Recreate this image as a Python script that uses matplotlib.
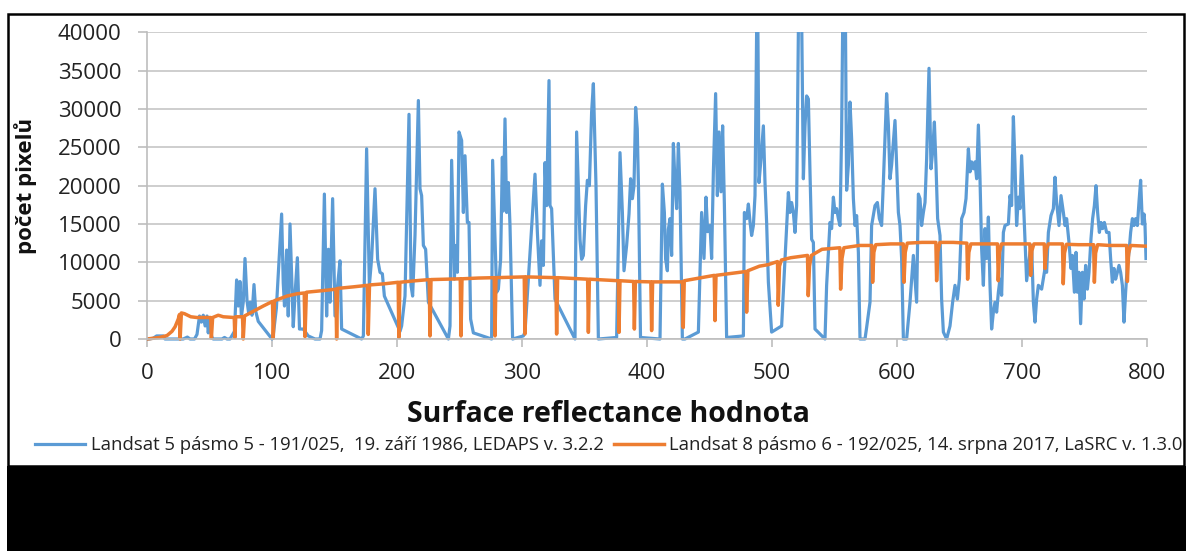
import matplotlib
matplotlib.use('Agg')
import matplotlib.pyplot as plt
from matplotlib.patches import Rectangle
from matplotlib.transforms import Bbox, TransformedBbox

plt.rcParams['font.family'] = ['Open Sans', 'DejaVu Sans']

# Landsat 5 (blue) - vertices
blue_x = [0, 2, 5, 7.7, 13, 14.4, 29, 32.3, 34.4, 38, 40, 42, 43.5, 45, 46.5, 48, 49, 50.4, 51.7, 53,
          60, 62, 64, 66.4, 70, 71.7, 73, 74.4, 75.5, 77, 78.4, 80, 81.3, 82.5, 84, 85.6, 87, 89, 100,
          101, 103.5, 107.7, 109, 110, 111.7, 113, 114.4, 115.5, 117, 118.5, 120.3, 122, 125, 129, 134.4,
          138.4, 139.7, 141.9, 143.7, 145.1, 146.4, 148.5, 150.4, 152.5, 154.4, 155.7, 171.7, 173.1, 175.7,
          177.9, 179.7, 182.4, 184.5, 186.4, 188.3, 189.9, 202.4, 203.7, 206.4, 209.6, 211.2, 212.5, 214.4,
          217.1, 218.4, 219.7, 221.1, 222.9, 225.1, 241.1, 242.4, 243.7, 245.9, 246.9, 248.3, 249.6, 251.7,
          253.1, 254.4, 256.3, 257.6, 258.9, 261.1, 275.7, 276.5, 278.4, 279.7, 281.1, 282.9, 284.3, 285.1,
          286.4, 287.7, 289.1, 290.4, 292.5, 301.1, 302.4, 310.4, 312.3, 314.4, 315.7, 317.1, 318.4, 319.7,
          321.6, 322.4, 323.7, 326.4, 342.4, 343.7, 346.4, 347.7, 349.1, 350.9, 352.3, 353.9, 355.7, 357.1,
          359.2, 361.1, 375.7, 378.4, 380.3, 381.6, 383.7, 385.6, 386.9, 388.3, 389.6, 390.9, 392.2, 393.2,
          394.8, 410.4, 412.3, 413.9, 414.9, 416.3, 417.1, 418.4, 419.7, 421.1, 422.4, 423.7, 425.1, 426.4,
          428.3, 430.4, 441.1, 443.7, 445.6, 447.2, 448.5, 450.4, 451.7, 453.1, 454.9, 456.3, 457.6, 459.2,
          460.5, 461.9, 463.7, 477.1, 477.9, 479.7, 481.1, 482.4, 483.7, 485.1, 486.4, 488.3, 489.6, 491.2,
          493.1, 494.4, 495.7, 497.1, 499.7, 507.7, 513.1, 514.4, 515.7, 517.1, 518.4, 519.7, 521.7, 523.2,
          525.1, 526.4, 527.7, 529.1, 530.4, 531.7, 533.1, 534.4, 542.4, 543.7, 546.4, 547.7, 549.1, 550.4,
          551.7, 553.1, 554.4, 555.7, 557.1, 558.4, 559.7, 561.1, 562.4, 563.7, 565.1, 566.4, 567.7, 569.1,
          570.4, 574.4, 575.7, 578.4, 579.7, 582.4, 584.3, 585.9, 587.7, 589.1, 591.7, 593.1, 594.4, 595.7,
          598.4, 599.7, 601.1, 602.4, 603.7, 605.1, 607.7, 610.4, 613.1, 615.7, 617.1, 618.4, 619.7, 621.1,
          622.4, 623.7, 625.6, 627.2, 628.5, 629.9, 631.2, 632.5, 634.4, 635.7, 637.1, 639.7, 642.4, 644.5,
          646.4, 648.3, 649.9, 651.7, 653.6, 655.2, 657.1, 658.4, 659.7, 661.1, 662.4, 663.7, 665.1, 666.4,
          667.7, 669.1, 670.4, 671.7, 673.1, 674.4, 675.7, 677.1, 678.4, 679.7, 681.1, 682.4, 683.7, 685.1,
          686.4, 689.1, 690.4, 691.7, 693.1, 694.4, 695.7, 697.1, 698.4, 699.7, 701.1, 702.4, 703.7, 706.4,
          707.7, 709.1, 710.4, 711.7, 713.1, 715.7, 718.4, 719.7, 721.1, 723.2, 725.1, 726.4, 727.7, 729.6,
          731.2, 733.1, 734.4, 735.7, 737.6, 739.2, 740.3, 741.9, 743.2, 744.3, 745.6, 746.9, 748.3, 749.6,
          750.9, 752.3, 753.6, 755.2, 756.5, 757.9, 759.2, 760.5, 761.9, 763.2, 764.5, 765.9, 767.7, 769.6,
          770.9, 772.3, 773.6, 774.9, 776.3, 777.6, 778.9, 780.3, 781.6, 782.9, 784.3, 785.6, 786.9, 788.3,
          789.6, 790.9, 792.3, 793.6, 794.9, 796.3, 797.6, 798.4, 799.2]
blue_y = [0, 0, 100, 400, 400, 0, 0, 250, 0, 0, 600, 3000, 2200, 3100, 1700, 3000, 800, 2700, 300, 0,
          0, 200, 0, 0, 1000, 7700, 4300, 7500, 2900, 4800, 10500, 5000, 3400, 4800, 3100, 7100, 3600, 2300, 0,
          500, 4000, 16300, 7300, 4300, 11600, 3000, 15000, 9500, 1600, 6000, 10600, 1300, 1300, 400, 0,
          0, 1100, 18900, 3000, 11700, 4800, 18300, 3000, 7000, 10200, 1300, 0, 400, 24800,
          7000, 10500, 19600, 10400, 8700, 8500, 5600, 1000, 1700, 5600, 29300, 7000, 5600, 13500,
          31100, 19600, 18700, 12200, 11700, 4800, 0, 1700, 23300, 7800, 12200, 8700, 27000, 25900,
          16500, 23900, 15200, 15200, 2600, 800, 0, 23300, 13000, 6100, 6500, 10400, 23700, 16700,
          28700, 16500, 20400, 14800, 0, 400, 900, 21500, 13900, 7000, 12800, 9600, 23000, 17400,
          33700, 17400, 17000, 5200, 0, 27000, 13000, 10400, 10900, 17400, 20700, 20000, 29600, 33300,
          20000, 0, 200, 24300, 16500, 8900, 12200, 16300, 20900, 18300, 20000, 30200, 27400, 19600,
          200, 0, 20200, 16500, 10400, 8900, 14300, 15700, 10900, 25500, 20400, 17000, 25500, 19200,
          0, 0, 900, 16500, 10500, 18500, 14000, 14800, 10500, 21800, 32000, 18700, 27000, 19200,
          27800, 17600, 200, 400, 16500, 15700, 17600, 15300, 13500, 14800, 18700, 50000, 20400, 23500,
          27800, 20400, 15200, 7400, 900, 1700, 19100, 16500, 17800, 16500, 13900, 17400, 50000, 50000,
          20900, 27800, 31700, 31300, 21700, 13000, 12600, 1300, 0, 7000, 15200, 14400, 18500, 16500,
          17000, 15700, 14800, 27000, 50000, 50000, 19400, 22700, 30900, 26100, 18300, 14800, 16100, 11300,
          0, 0, 1500, 4800, 14800, 17400, 17800, 15700, 14800, 20500, 32000, 27900, 20900, 22700,
          28500, 22700, 16500, 14800, 10500, 0, 0, 4800, 10900, 4800, 18900, 18300, 14800, 16500,
          17800, 23500, 35300, 22200, 24400, 28300, 22600, 15700, 13500, 5200, 900, 0, 1700, 4800,
          7000, 5200, 7800, 15700, 16500, 18300, 24800, 21800, 23100, 22200, 23100, 20900, 27900, 20900,
          11800, 7000, 14400, 10500, 15900, 7000, 1300, 3500, 4800, 3500, 6100, 7800, 5700, 13900,
          14800, 15000, 18700, 17400, 29000, 22700, 14800, 18500, 17000, 23900, 18300, 13100, 7600, 11300,
          12200, 4800, 2200, 5200, 7000, 6500, 9200, 8700, 13900, 16100, 17000, 21100, 17800, 14800,
          18700, 16500, 14800, 15700, 12600, 9200, 10900, 6100, 11300, 6100, 8700, 2000, 8700, 5200,
          9600, 6500, 8700, 13100, 15700, 17400, 20000, 16500, 13900, 15200, 14400, 15200, 13900, 13900,
          10500, 7400, 9200, 7800, 8700, 9600, 8700, 7000, 2200, 6100, 9600, 11300, 13900, 15700,
          14800, 15700, 14800, 17900, 20700, 15000, 16300, 14800, 10500]

# Landsat 8 (orange) - vertices
orange_x = [0, 10, 16, 20, 22.5, 25, 26, 26.5, 27.5, 30, 35, 40, 51, 51.5, 52.5, 57, 61, 69.8, 70.3, 71,
            76.4, 77, 78, 85, 93, 100.4, 101, 102, 112, 120, 125.8, 126.4, 127.5, 140, 151.1, 151.7, 152.5,
            165, 176.4, 177, 178, 190, 200.9, 201.5, 202.3, 215, 225.8, 226.4, 227.2, 240, 250.6, 251.2, 252,
            265, 277.8, 278.4, 279.2, 290, 301.8, 302.4, 303.2, 315, 327.1, 327.7, 328.5, 340, 352.5, 353.1,
            353.9, 365, 377, 377.6, 378.4, 389.3, 389.9, 390.7, 403.1, 403.7, 404.5, 415, 428.4, 429, 429.8,
            440, 453.8, 454.4, 455.2, 465, 479.1, 479.7, 480.7, 490, 497, 504.4, 505, 506, 507.5, 515, 528.4,
            529, 530, 531.5, 540, 554.3, 554.9, 556, 557.5, 570, 579.9, 580.5, 581.5, 583, 595, 605, 605.6,
            606.6, 608.2, 620, 631.1, 631.7, 632.7, 634.3, 645, 655.9, 656.5, 657.5, 659.1, 670, 680.4, 681,
            682, 683.6, 695, 706.3, 706.9, 707.9, 709.5, 717.8, 718.4, 719.4, 721, 732.4, 733, 734, 735.6,
            745, 757.3, 757.9, 758.9, 760.5, 770, 783.7, 784.3, 785.3, 786.9, 800]
orange_y = [0, 200, 450, 1000, 1600, 2600, 3200, 0, 3400, 3300, 2900, 2800, 2800, 100, 2800, 3100, 2900, 2800, 200, 2900,
            2900, 0, 3000, 3600, 4300, 4900, 100, 5000, 5600, 5900, 6000, 300, 6100, 6300, 6500, 0, 6600,
            6800, 7000, 600, 7050, 7200, 7400, 200, 7400, 7600, 7750, 400, 7750, 7800, 7850, 400, 7850,
            7950, 8000, 400, 8000, 8050, 8100, 650, 8100, 8050, 8000, 650, 8000, 7900, 7800, 870,
            7800, 7700, 7600, 870, 7600, 7500, 1300, 7500, 7450, 1100, 7450, 7450, 7450, 1500, 7600,
            7900, 8300, 2400, 8300, 8500, 8800, 3500, 8900, 9500, 9700, 10100, 4400, 9500, 10300, 10600, 10900,
            5650, 9500, 10900, 11700, 11900, 6500, 10500, 11900, 12200, 12200, 7400, 11300, 12300, 12400, 12400, 7400,
            11300, 12500, 12600, 12600, 7600, 11400, 12600, 12600, 12500, 7800, 11300, 12400, 12400, 12400, 7600,
            11300, 12400, 12400, 12400, 8300, 11500, 12400, 12400, 9200, 11600, 12400, 12400, 7200, 11200, 12350,
            12300, 12300, 7400, 11200, 12300, 12200, 12200, 7500, 11200, 12200, 12100]

label_blue = 'Landsat 5 pásmo 5 - 191/025,  19. září 1986, LEDAPS v. 3.2.2'
label_orange = 'Landsat 8 pásmo 6 - 192/025, 14. srpna 2017, LaSRC v. 1.3.0'

W, H = 1186, 551
fig = plt.figure(figsize=(W / 100, H / 100), dpi=100)
fig.patch.set_facecolor('white')

ax = fig.add_axes([147 / W, 1 - 339 / H, 1000 / W, (339 - 32.3) / H])
l1, = ax.plot(blue_x, blue_y, color='#5B9BD5', lw=2.3, label=label_blue)
l2, = ax.plot(orange_x, orange_y, color='#ED7D31', lw=2.5, label=label_orange)
# let lines at zero sit on the axis instead of being half clipped
clip = TransformedBbox(Bbox([[0, -0.02], [1, 1]]), ax.transAxes)
for ln in (l1, l2):
    ln.set_clip_box(clip)

ax.set_xlim(0, 800)
ax.set_ylim(0, 40000)
ax.set_xticks(range(0, 801, 100))
ax.set_yticks(range(0, 40001, 5000))
ax.grid(axis='y', color='#c6c6c6', lw=1.2)
ax.set_axisbelow(True)
for s in ['top', 'right']:
    ax.spines[s].set_visible(False)
for s in ['left', 'bottom']:
    ax.spines[s].set_color('#bdbdbd')
    ax.spines[s].set_linewidth(1.2)
ax.tick_params(axis='y', length=6.5, width=1.2, color='#bdbdbd', pad=12, labelsize=16, labelcolor='#222222')
ax.tick_params(axis='x', length=6, width=1.2, color='#bdbdbd', pad=11, labelsize=16, labelcolor='#222222')

ax.set_ylabel('počet pixelů', fontsize=16, fontweight='bold', color='#111111')
ax.yaxis.set_label_coords(-0.11, 0.5)
ax.set_xlabel('Surface reflectance hodnota', fontsize=20.5, fontweight='bold', color='#111111')
ax.xaxis.set_label_coords(0.4615, -0.2)

fig.legend(handles=[l1, l2], loc='center', bbox_to_anchor=(609 / W, 1 - 445 / H), ncol=2,
           frameon=False, fontsize=13.3, handlelength=2.7, handletextpad=0.3, columnspacing=0.55,
           borderaxespad=0, borderpad=0, labelcolor='#222222')

# black frame and black band at the bottom
fig.add_artist(Rectangle((7 / W, 0), 1 - 7 / W, 1 - 466 / H, transform=fig.transFigure,
                         facecolor='black', edgecolor='none'))
fig.add_artist(Rectangle((8 / W, 1 - 466 / H), (1184 - 8) / W, (466 - 14) / H, transform=fig.transFigure,
                         fill=False, edgecolor='black', lw=1.8))

fig.savefig('out.png', dpi=100)
